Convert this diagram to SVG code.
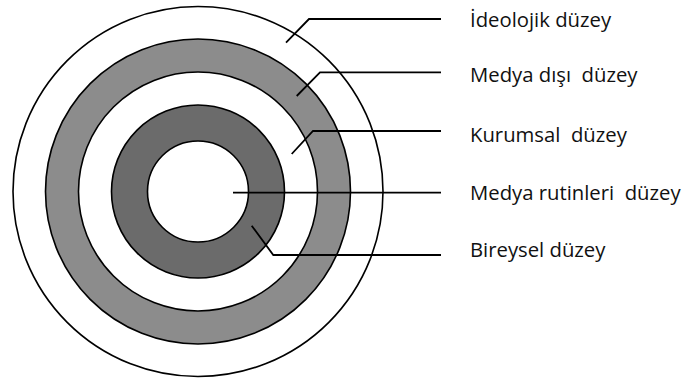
<svg xmlns="http://www.w3.org/2000/svg" width="684" height="378" viewBox="0 0 684 378">
<style>
.ring{stroke:#000;stroke-width:1.6}
.lead{fill:none;stroke:#000;stroke-width:1.8}
.lbl{font-family:"Open Sans","Noto Sans",sans-serif;font-size:20.3px;fill:#111;white-space:pre}
</style>
<rect width="684" height="378" fill="#fff"/>
<g id="ideolojik"><circle class="ring" cx="198" cy="191.5" r="185" fill="#fff"/></g>
<g id="medya-disi"><circle class="ring" cx="198" cy="191.5" r="152.5" fill="#8c8c8c"/></g>
<g id="kurumsal"><circle class="ring" cx="198" cy="191.5" r="119.5" fill="#fff"/></g>
<g id="bireysel"><circle class="ring" cx="198" cy="191.5" r="86.5" fill="#6b6b6b"/></g>
<g id="medya-rutinleri"><circle class="ring" cx="198" cy="191.5" r="50.5" fill="#fff"/></g>
<g id="connectors">
<polyline class="lead" points="286,42.7 309,19 441,19"/>
<polyline class="lead" points="296.7,96 320,72.3 441,72.3"/>
<polyline class="lead" points="291.7,154 313,131 441,131"/>
<polyline class="lead" points="233,192.7 441,192.7"/>
<polyline class="lead" points="251.7,225.7 273.3,255 441,255"/>
</g>
<g id="labels">
<text class="lbl" x="470" y="26.7">İdeolojik düzey</text>
<text class="lbl" x="470" y="81.7">Medya dışı  düzey</text>
<text class="lbl" x="470" y="141.7">Kurumsal  düzey</text>
<text class="lbl" x="470" y="200">Medya rutinleri  düzey</text>
<text class="lbl" x="470" y="256.7">Bireysel düzey</text>
</g>
</svg>
